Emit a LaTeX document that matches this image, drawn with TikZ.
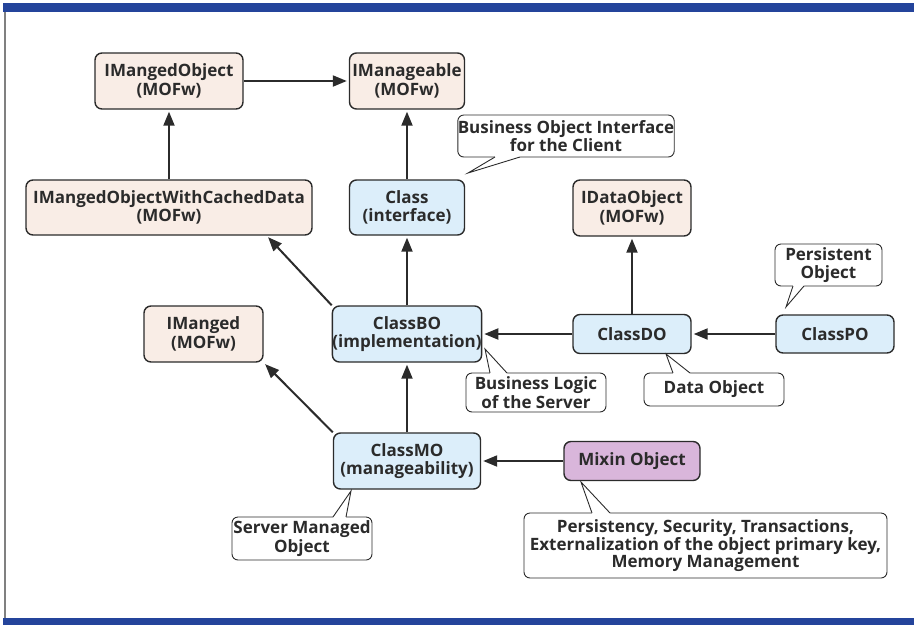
\documentclass[tikz,border=0pt]{standalone}
\usepackage{fontspec}
\setmainfont{Open Sans}
\usetikzlibrary{arrows.meta, calc}
\definecolor{mofwfill}{HTML}{F9EDE6}
\definecolor{implfill}{HTML}{DCEEFA}
\definecolor{mixfill}{HTML}{D9B6DB}
\definecolor{edge}{HTML}{2B2B2B}
\definecolor{barblue}{HTML}{24449B}
\def\notetail#1#2#3#4{% base, tip, base, shift into the note
  \fill[white] ($#1+(0,#4)$) -- #1 -- #2 -- #3 -- ($#3+(0,#4)$) -- cycle;
  \draw[note edge] #1 -- #2 -- #3;}

\begin{document}
\begin{tikzpicture}[x=1pt, y=-1pt, font=\fontsize{17}{18.5}\selectfont\bfseries, text=edge,
  box/.style={draw=edge, line width=1.4pt, rounded corners=7pt, align=center, inner sep=0pt},
  mofw/.style={box, fill=mofwfill},
  impl/.style={box, fill=implfill},
  mixbox/.style={box, fill=mixfill},
  note/.style={draw=edge, line width=0.9pt, fill=white, rounded corners=6pt, align=center, inner sep=0pt},
  note edge/.style={draw=edge, line width=0.9pt},
  wh/.style 2 args={minimum width=#1pt, minimum height=#2pt},
  isa/.style={draw=edge, line width=2pt, -{Triangle[length=14pt, width=11pt]}, shorten >=2pt}]
  \useasboundingbox (0,0) rectangle (914,625);
  % frame
  \fill[barblue] (3,3) rectangle (914,12);
  \fill[barblue] (3,618) rectangle (914,625);
  \draw[gray, line width=1.2pt] (5,12) -- (5,618);

  \node (mobj) [mofw, wh={148}{56}] at (169,81) {IMangedObject\\(MOFw)};
  \node (mgbl) [mofw, wh={115}{56}] at (407,81) {IManageable\\(MOFw)};
  \node (cached) [mofw, wh={286}{55}] at (169,207.5) {IMangedObjectWithCachedData\\(MOFw)};
  \node (iface) [impl, wh={115}{55}] at (407,207.5) {Class\\(interface)};
  \node (dataif) [mofw, wh={118}{56}] at (632,208) {IDataObject\\(MOFw)};
  \node (mgd) [mofw, wh={119}{56}] at (203.5,334) {IManged\\(MOFw)};
  \node (classbo) [impl, wh={148}{56}] at (407,334) {ClassBO\\(implementation)};
  \node (classdo) [impl, wh={118}{39}] at (632,334) {ClassDO};
  \node (classpo) [impl, wh={118}{38}] at (835,334) {ClassPO};
  \node (classmo) [impl, wh={147}{56}] at (407,461) {ClassMO\\(manageability)};
  \node (mixin) [mixbox, wh={136}{39}] at (632,461) {Mixin Object};

  % notes
  \node (ifnote) [note, wh={210}{42}] at (566,136) {Business Object Interface\\for the Client};
  \node (ponote) [note, wh={107}{42}] at (828.5,265) {Persistent\\Object};
  \node (bonote) [note, wh={140}{39}] at (536,392.5) {Business Logic\\of the Server};
  \node (donote) [note, wh={140}{33}] at (714,389.5) {Data Object};
  \node (monote) [note, wh={140}{43}] at (302,538.5) {Server Managed\\Object};
  \node (mixnote) [note, wh={363}{65}, font=\fontsize{17}{17}\selectfont\bfseries] at (705.5,545.5)
    {Persistency, Security, Transactions,\\Externalization of the object primary key,\\Memory Management};
  \notetail{(495,157)}{(468,173)}{(520,157)}{-2}
  \notetail{(793,286)}{(786,307)}{(804,286)}{-2}
  \notetail{(490,373)}{(485,349)}{(507,373)}{2}
  \notetail{(673,373)}{(666,354)}{(690,373)}{2}
  \notetail{(333,517)}{(351,491)}{(346,517)}{2}
  \notetail{(592,513)}{(581,482)}{(610,513)}{2}

  % inheritance
  \draw[isa] (mobj) -- (mgbl);
  \draw[isa] (cached) -- (mobj);
  \draw[isa] (iface) -- (mgbl);
  \draw[isa] (classbo.north west) -- ($(cached.south east)+(-46,0)$);
  \draw[isa] (classbo) -- (iface);
  \draw[isa] (classdo) -- (classbo);
  \draw[isa] (classdo) -- (dataif);
  \draw[isa] (classpo) -- (classdo);
  \draw[isa] (classmo.north west) -- (mgd.south east);
  \draw[isa] (classmo) -- (classbo);
  \draw[isa] (mixin) -- (classmo);
\end{tikzpicture}
\end{document}
